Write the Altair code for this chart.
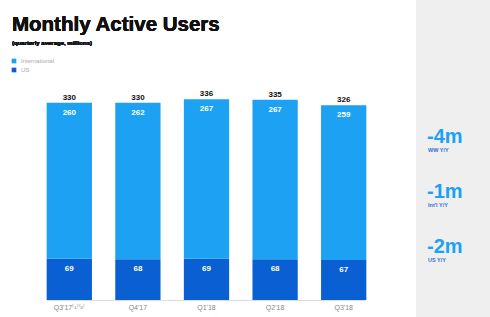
import altair as alt
import pandas as pd

# Quarterly monthly active users (millions)
quarters = ["Q3'17⁽¹⁾⁽²⁾", "Q4'17", "Q1'18", "Q2'18", "Q3'18"]
us_users = [69, 68, 69, 68, 67]
intl_users = [260, 262, 267, 267, 259]
total_users = [330, 330, 336, 335, 326]

# Year-over-year changes in the side panel
yoy_values = ["-4m", "-1m", "-2m"]
yoy_labels = ["WW Y/Y", "Int'l Y/Y", "US Y/Y"]

INTL_BLUE = "#1da1f2"
US_BLUE = "#0a5fd2"
FONT = "Liberation Sans"

rows = []
for q, us, intl, tot in zip(quarters, us_users, intl_users, total_users):
    rows.append({"quarter": q, "segment": "US", "start": 0, "end": us, "label": us, "total": tot})
    rows.append({"quarter": q, "segment": "International", "start": us, "end": tot, "label": intl, "total": tot})
df = pd.DataFrame(rows)
tot_df = pd.DataFrame({"quarter": quarters, "total": total_users})

x = alt.X("quarter:N", sort=quarters,
          scale=alt.Scale(paddingInner=0.34, paddingOuter=0.17),
          axis=alt.Axis(title=None, domain=False, ticks=False, labelAngle=0,
                        labelFont=FONT, labelFontSize=7, labelColor="#888888",
                        labelPadding=3))
yscale = alt.Scale(domain=[0, 502], nice=False)

bars = alt.Chart(df).mark_bar().encode(
    x=x,
    y=alt.Y("start:Q", scale=yscale, axis=None),
    y2="end:Q",
    color=alt.Color("segment:N",
                    scale=alt.Scale(domain=["International", "US"], range=[INTL_BLUE, US_BLUE]),
                    legend=None),
)

seg_labels = alt.Chart(df).mark_text(
    baseline="top", dy=6, font=FONT, fontSize=8, fontWeight="bold", color="white"
).encode(
    x=alt.X("quarter:N", sort=quarters),
    y=alt.Y("end:Q", scale=yscale),
    text="label:Q",
)

tot_labels = alt.Chart(tot_df).mark_text(
    baseline="bottom", dy=-1, font=FONT, fontSize=8, fontWeight="bold", color="#111111"
).encode(
    x=alt.X("quarter:N", sort=quarters),
    y=alt.Y("total:Q", scale=yscale),
    text="total:Q",
)

baseline_rule = alt.Chart(tot_df).mark_rule(color="#dddddd", strokeWidth=1).encode(
    x=alt.value(12), x2=alt.value(330), y=alt.value(300.5)
)

# Side panel background
panel = alt.Chart(tot_df).mark_rect(color="#efefef").encode(
    x=alt.value(381), x2=alt.value(455), y=alt.value(0), y2=alt.value(317)
)

yoy_df = pd.DataFrame({"value": yoy_values, "label": yoy_labels, "pos": [0, 1, 2]})
yoy_big = alt.Chart(yoy_df).transform_calculate(
    py="143 + datum.pos * 55"
).mark_text(
    align="left", baseline="alphabetic", font=FONT, fontSize=20, fontWeight="bold", color=INTL_BLUE
).encode(
    x=alt.value(392), y=alt.Y("py:Q", scale=None), text="value:N"
)
yoy_small = alt.Chart(yoy_df).transform_calculate(
    py="152 + datum.pos * 55"
).mark_text(
    align="left", baseline="alphabetic", font=FONT, fontSize=5.5, fontWeight="bold", color="#2d6fcf"
).encode(
    x=alt.value(393), y=alt.Y("py:Q", scale=None), text="label:N"
)

title = alt.Chart(tot_df).mark_text(
    align="left", baseline="alphabetic", font=FONT, fontSize=20.5, fontWeight="bold", color="#111111"
).encode(x=alt.value(-23), y=alt.value(31), text=alt.value("Monthly Active Users"))

subtitle = alt.Chart(tot_df).mark_text(
    align="left", baseline="alphabetic", font=FONT, fontSize=6, fontWeight="bold", color="#111111"
).encode(x=alt.value(-23), y=alt.value(45), text=alt.value("(quarterly average, millions)"))

legend_df = pd.DataFrame({"name": ["International", "US"], "py": [61, 70], "col": [INTL_BLUE, US_BLUE]})
legend_sq = alt.Chart(legend_df).mark_square(size=22, opacity=1).encode(
    x=alt.value(-21), y=alt.Y("py:Q", scale=None),
    color=alt.Color("col:N", scale=None),
)
legend_txt = alt.Chart(legend_df).mark_text(
    align="left", baseline="middle", font=FONT, fontSize=6, color="#aaaaaa"
).encode(x=alt.value(-14), y=alt.Y("py:Q", scale=None), text="name:N")

chart = alt.layer(
    panel, baseline_rule, bars, seg_labels, tot_labels,
    yoy_big, yoy_small, title, subtitle, legend_sq, legend_txt
).properties(
    width=343, height=300,
    autosize=alt.AutoSizeParams(type="none"),
    padding={"left": 35, "top": 0, "right": 112, "bottom": 17},
    background="white",
).configure_view(stroke=None)

chart.save("out.html", embed_options={"renderer": "svg", "actions": False})
